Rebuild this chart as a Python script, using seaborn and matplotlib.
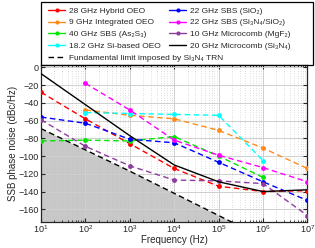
import matplotlib
matplotlib.use("Agg")
import matplotlib.pyplot as plt
import seaborn as sns
import pandas as pd
from matplotlib.lines import Line2D
from matplotlib.patches import Rectangle

# offset frequencies (Hz)
freq = [1e1, 1e2, 1e3, 1e4, 1e5, 1e6, 1e7]

# SSB phase noise (dBc/Hz), None where a source has no value
hybrid_oeo = [-28, -58, -86, -114, -134, -140, -139]
integrated_oeo = [None, -48, -54, -58, -71, -91, -114]
sbs_as2s3 = [-83, -82, -83, -78, -100, -124, None]
si_oeo = [None, -51, -52, -53, -54, -105, None]
sbs_sio2 = [-56, -63, -81, -85, -107, -129, -150]
sbs_sin_sio2 = [None, -18, -48, -82, -99, -113, -129]
comb_mgf2 = [-59, -89, -111, -127, -128, -131, -167]
comb_sin = [-7, -42, -77, -110, -129, -140, -138]

# thermorefractive noise limit
trn_freq = [1e1, 1e2, 1e3, 1e4, 1e5, 1e6]
trn_limit = [-69, -93, -117, -142, -167, -192]

series = [
    ("28 GHz Hybrid OEO", hybrid_oeo, "#ff0000"),
    ("9 GHz Integrated OEO", integrated_oeo, "#ff8c1a"),
    ("40 GHz SBS (As₂S₃)", sbs_as2s3, "#00e600"),
    ("18.2 GHz Si-based OEO", si_oeo, "#00ffff"),
    ("22 GHz SBS (SiO₂)", sbs_sio2, "#0000ff"),
    ("22 GHz SBS (Si₃N₄/SiO₂)", sbs_sin_sio2, "#ff00ff"),
    ("10 GHz Microcomb (MgF₂)", comb_mgf2, "#8e3ca0"),
]

sns.set_theme(style="ticks")
plt.rcParams["font.family"] = ["Liberation Sans", "DejaVu Sans"]

fig = plt.figure(figsize=(3.15, 2.48), dpi=100)
ax = fig.add_axes([0.130, 0.106, 0.846, 0.633])
ax.set_xscale("log")

ax.fill_between(trn_freq, trn_limit, -200, color="#c8c8c8", lw=0, zorder=0)
sns.lineplot(x=trn_freq, y=trn_limit, ax=ax, color="black", lw=1.0,
             linestyle=(0, (4, 2.5)), zorder=2)

handles = []
for label, vals, col in series:
    df = pd.DataFrame({"f": freq, "pn": vals}).dropna()
    sns.lineplot(data=df, x="f", y="pn", ax=ax, color=col, lw=1.0,
                 linestyle=(0, (4, 2.5)), marker="o", markersize=3.5,
                 markeredgewidth=0, zorder=3)
    handles.append(Line2D([], [], color=col, lw=1.0, marker="o",
                          markersize=3, markeredgewidth=0, label=label))

sns.lineplot(x=freq, y=comb_sin, ax=ax, color="black", lw=1.0, zorder=3)
handles.append(Line2D([], [], color="black", lw=1.0,
                      label="20 GHz Microcomb (Si₃N₄)"))

ax.set_xlim(10, 1e7)
ax.set_ylim(-174, 3)
ax.set_yticks(range(-160, 1, 20))
ax.set_xlabel("Frequency (Hz)", fontsize=7, labelpad=0)
ax.set_ylabel("SSB phase noise (dBc/Hz)", fontsize=7, labelpad=0.5)
ax.grid(which="major", color="#cfcfcf", lw=0.7)
ax.grid(which="minor", axis="x", color="#bdbdbd", lw=0.5,
        linestyle=(0, (1, 2.5)))
ax.tick_params(which="both", direction="in", top=True, right=True,
               labelsize=6.5, pad=1.5)
ax.tick_params(which="major", length=3, width=0.8)
ax.tick_params(which="minor", length=1.5, width=0.6)
for s in ax.spines.values():
    s.set_linewidth(0.9)

# legend box above the axes
fig.legend(handles=handles, ncol=2, loc="upper left",
           bbox_to_anchor=(0.135, 0.995), frameon=False, fontsize=6,
           handlelength=2.0, handletextpad=0.5, columnspacing=1.0,
           labelspacing=0.45, borderpad=0.2)
fig.legend(handles=[Line2D([], [], color="black", lw=1.0,
                           linestyle=(0, (4, 2.5)),
                           label="Fundamental limit imposed by Si₃N₄ TRN")],
           loc="upper left", bbox_to_anchor=(0.135, 0.805), frameon=False,
           fontsize=6, handlelength=2.0, handletextpad=0.5, borderpad=0.2)
fig.patches.append(Rectangle((0.130, 0.738), 0.864, 0.252, fill=False,
                             lw=0.9, ec="black", transform=fig.transFigure,
                             figure=fig))

fig.savefig("out.png", dpi=100)
